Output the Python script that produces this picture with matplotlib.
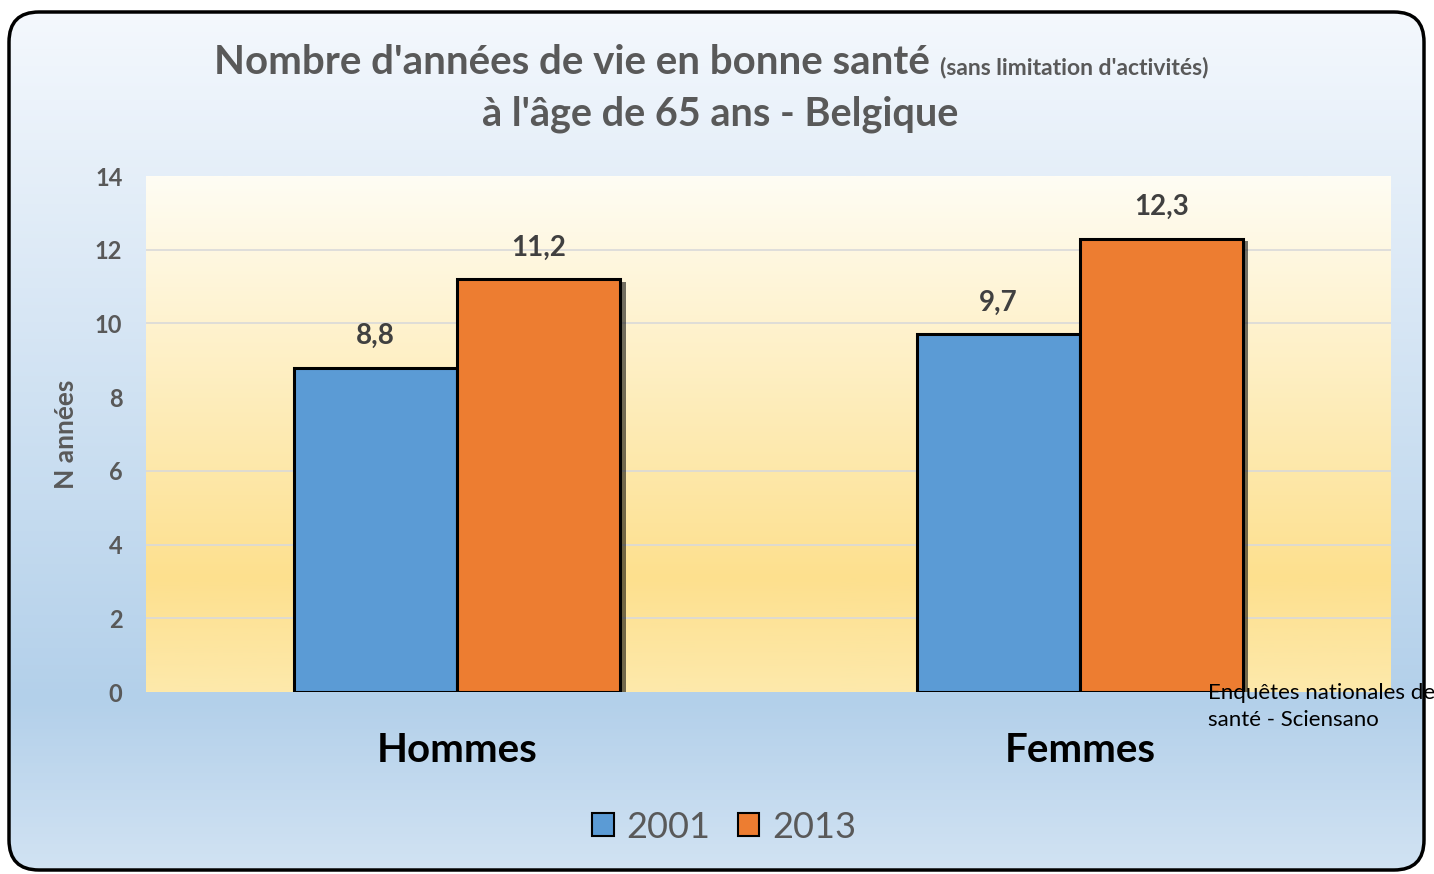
import matplotlib
matplotlib.use("Agg")
import matplotlib.pyplot as plt
import numpy as np
from matplotlib.patches import FancyBboxPatch, Patch
from matplotlib import patheffects as pe
from matplotlib.colors import LinearSegmentedColormap

plt.rcParams['font.family'] = ['Lato', 'DejaVu Sans']

categories = ['Hommes', 'Femmes']
years = ['2001', '2013']
values_2001 = [8.8, 9.7]
values_2013 = [11.2, 12.3]
yticks = [0, 2, 4, 6, 8, 10, 12, 14]
gridlines = [2, 4, 6, 10, 12]

blue = '#5b9bd5'
orange = '#ed7d31'
grey = '#595959'

W, H = 1434, 874
fig = plt.figure(figsize=(W / 100, H / 100), dpi=100)
fig.patch.set_facecolor('white')

# background panel with rounded border
bg = fig.add_axes([0, 0, 1, 1])
bg.set_xlim(0, W)
bg.set_ylim(H, 0)
bg.axis('off')
bg_cmap = LinearSegmentedColormap.from_list(
    'bg', [(0, '#f4f8fd'), (0.80, '#b3d0ea'), (1, '#d2e3f3')])
grad = np.linspace(0, 1, 256).reshape(-1, 1)
im = bg.imshow(grad, cmap=bg_cmap, extent=[9, 1424, 874, 12], aspect='auto', zorder=0)
frame = FancyBboxPatch((9, 12), 1415, 858, boxstyle='round,pad=0,rounding_size=30',
                       facecolor='none', edgecolor='black', linewidth=2.5, zorder=2)
bg.add_patch(frame)
im.set_clip_path(frame)

# plot area
ax = fig.add_axes([146 / W, 1 - 692 / H, 1245 / W, 516 / H])
ax.set_xlim(-0.5, 1.5)
ax.set_ylim(0, 14)
plot_cmap = LinearSegmentedColormap.from_list(
    'plot', [(0, '#fde9ab'), (0.22, '#fde08e'), (1, '#fffdf4')])
ax.imshow(np.linspace(0, 1, 256).reshape(-1, 1), cmap=plot_cmap, origin='lower',
          extent=[-0.5, 1.5, 0, 14], aspect='auto', zorder=0)
for t in gridlines:
    ax.axhline(t, color='#d9d9d9', linewidth=1.2, zorder=1)
for s in ax.spines.values():
    s.set_visible(False)

x = np.arange(len(categories))
w = 0.262
shadow = [pe.SimplePatchShadow(offset=(4, -2), shadow_rgbFace='black', alpha=0.55), pe.Normal()]
b1 = ax.bar(x - w / 2, values_2001, w, color=blue, edgecolor='black', linewidth=2.2,
            zorder=3, path_effects=shadow)
b2 = ax.bar(x + w / 2, values_2013, w, color=orange, edgecolor='black', linewidth=2.2,
            zorder=3, path_effects=shadow)
for bars in (b1, b2):
    for r in bars:
        ax.text(r.get_x() + r.get_width() / 2, r.get_height() + 0.5,
                f'{r.get_height():.1f}'.replace('.', ','), ha='center', va='bottom',
                fontsize=20, fontweight='bold', color='#404040', zorder=4)

ax.set_yticks(yticks)
ax.set_yticklabels([str(t) for t in yticks], fontsize=17, fontweight='bold', color=grey)
ax.tick_params(axis='y', length=0, pad=17)
ax.set_xticks(x)
ax.set_xticklabels(categories, fontsize=29, fontweight='bold', color='black')
ax.tick_params(axis='x', length=0, pad=29)
ax.set_ylabel('N années', fontsize=19, fontweight='bold', color=grey, labelpad=12)

# title
fig.text(930 / W, 1 - 63 / H, "Nombre d'années de vie en bonne santé", ha='right',
         va='center', fontsize=29, fontweight='bold', color=grey)
fig.text(940 / W, 1 - 68 / H, "(sans limitation d'activités)", ha='left', va='center',
         fontsize=16.5, fontweight='bold', color=grey)
fig.text(720 / W, 1 - 114 / H, "à l'âge de 65 ans - Belgique", ha='center', va='center',
         fontsize=28.5, fontweight='bold', color=grey)

# source
fig.text(1208 / W, 1 - 683 / H, "Enquêtes nationales de\nsanté - Sciensano", ha='left',
         va='top', fontsize=16, color='black', linespacing=1.45)

handles = [Patch(facecolor=blue, edgecolor='black', linewidth=1.5),
           Patch(facecolor=orange, edgecolor='black', linewidth=1.5)]
fig.legend(handles, years, loc='center', bbox_to_anchor=(724 / W, 1 - 827 / H), ncol=2,
           frameon=False, fontsize=26, labelcolor=grey, handlelength=0.6, handleheight=0.6,
           handletextpad=0.35, columnspacing=0.75)

fig.savefig('out.png', dpi=100)
